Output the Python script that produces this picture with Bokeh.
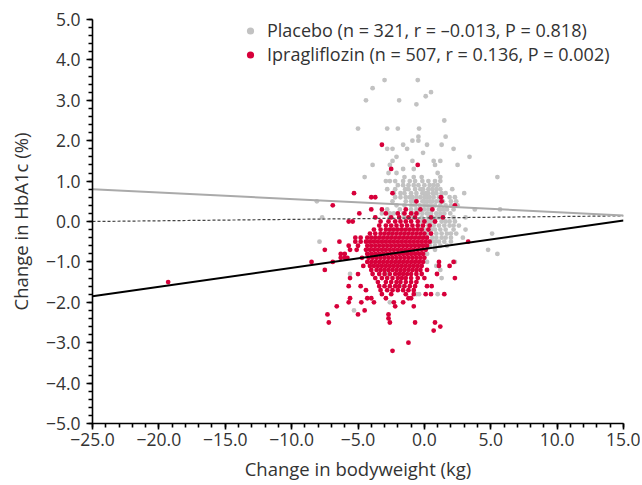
from bokeh.plotting import figure
from bokeh.models import Range1d, FixedTicker, CustomJSTickFormatter, Legend, LegendItem
from bokeh.embed import file_html
from bokeh.resources import INLINE

# ---- axis ticks ----
x_ticks = [-25, -20, -15, -10, -5, 0, 5, 10, 15]
y_ticks = [-5, -4, -3, -2, -1, 0, 1, 2, 3, 4, 5]
x_minor = list(range(-25, 16))
y_minor = [round(-5 + 0.2 * i, 1) for i in range(51)]

# ---- Placebo: HbA1c change levels (%) and bodyweight changes (kg) at each level ----
placebo_levels = [3.5, 3.3, 3.2, 3.1, 3.0, 2.9, 2.5, 2.3, 2.1, 2.0, 1.9, 1.8, 1.7, 1.6, 1.5,
                  1.4, 1.3, 1.2, 1.1, 1.0, 0.9, 0.8, 0.7, 0.6, 0.5, 0.4, 0.3, 0.2, 0.1, 0.0,
                  -0.1, -0.2, -0.3, -0.4, -0.5, -0.6, -0.7, -0.8, -1.0, -1.1, -1.2, -1.3,
                  -1.4, -1.6, -1.8, -2.0, -2.2]
placebo_weights = [
    [-3.0, -0.5],
    [-3.9],
    [0.5],
    [0.1],
    [-4.4, -1.9],
    [-0.6],
    [1.5],
    [-5.0, -2.8, -2.0, -0.4],
    [-0.45, 1.6],
    [-0.9, -0.45],
    [-1.6, 0.2, 1.3],
    [-2.8, -2.4, -1.3, 2.2],
    [-0.1],
    [-2.1, 3.4],
    [-2.4, -0.9, 0.7, 1.2],
    [-3.9, -2.6, 0.8, 2.5],
    [-1.6, -0.8],
    [-2.7, -2.1, 1.0],
    [-4.5, -1.5, -0.8, -0.2, 1.2, 5.5],
    [-2.9, -2.6, -2.2, -1.6, -1.1, -0.7, -0.15, 0.3, 0.8, 1.2],
    [-2.0, -1.6, -1.2, -0.8, -0.45, 0.0, 0.4, 0.7, 1.0],
    [-2.8, -2.2, -1.45, -1.2, -0.7, -0.3, -0.1, 0.3, 0.6, 0.9, 1.2, 2.1],
    [-2.3, -1.8, -1.5, -1.0, -0.6, -0.15, 0.1, 0.3, 0.65, 0.9, 1.3, 1.6, 3.0],
    [-2.2, -1.8, -1.4, -1.1, -0.9, -0.6, -0.3, 0.0, 0.2, 0.4, 0.7, 1.1, 1.3, 1.9, 2.3],
    [-8.1, -2.4, -1.4, -1.0, -0.8, -0.6, -0.15, 0.0, 0.2, 0.4, 0.6, 0.9, 1.2, 1.4, 2.0, 2.4],
    [-2.1, -1.5, -1.0, -0.7, -0.35, 0.0, 0.2, 0.5, 0.8, 1.2, 1.6, 2.0, 2.5],
    [-2.8, -1.85, -1.0, -0.6, -0.3, 0.0, 0.3, 0.6, 1.1, 1.4, 1.7, 2.2, 3.8, 5.7],
    [-3.2, -2.6, -2.3, -1.6, -0.9, -0.5, -0.15, 0.2, 0.5, 0.9, 1.2, 1.5, 1.95],
    [-7.7, -3.7, -2.6, -1.5, -0.9, -0.2, 0.3, 0.6, 0.9, 1.1, 1.4, 2.2, 3.1],
    [-0.2, 0.2, 0.5, 0.8, 1.3, 1.6, 1.9, 2.3],
    [-0.4, 0.3, 0.7, 1.1, 1.5, 1.9, 2.2, 2.6],
    [0.0, 0.5, 0.8, 1.2, 1.6, 2.2, 3.1],
    [-2.5, -1.5, 0.2, 0.5, 0.9, 1.3, 1.7, 2.0, 2.4, 5.1],
    [0.6, 0.9, 1.3, 1.6, 2.0, 2.9],
    [-7.9, 0.5, 0.8, 1.1, 1.5, 2.0],
    [0.4, 0.8, 1.2, 1.7],
    [-3.0, -1.0, 0.8, 4.8],
    [0.2, 5.5],
    [-2.0, 0.2, 2.3],
    [0.9],
    [1.2],
    [-5.6, -2.8],
    [1.3],
    [-1.6],
    [-0.6, -0.4, 1.0],
    [-2.6],
    [-5.3],
]

# ---- Ipragliflozin ----
ipra_levels = [1.9, 1.4, 1.3, 0.7, 0.6, 0.5, 0.4, 0.3, 0.2, 0.1, 0.0, -0.1, -0.2, -0.3,
               -0.4, -0.5, -0.6, -0.7, -0.8, -0.9, -1.0, -1.1, -1.2, -1.3, -1.4, -1.5,
               -1.6, -1.7, -1.8, -1.9, -2.0, -2.1, -2.2, -2.3, -2.4, -2.5, -2.6, -2.7,
               -3.0, -3.2]
ipra_weights = [
    [-3.2],
    [-0.5],
    [-2.5],
    [-5.3, -2.4],
    [-4.0, -3.7, 1.25],
    [-0.6, 1.3],
    [-6.9, 2.3],
    [-4.0, -3.2, -1.4, -0.3, 0.6],
    [-4.9, -2.9, -2.0, -1.5, -1.0, -0.6],
    [-3.7, -2.5, -1.9, -1.2, -0.7, 0.5, 1.4],
    [-5.7, -5.4, -3.3, -2.7, -2.2, -1.8, -1.4, -1.0, -0.5, 0.0, 0.8],
    [-3.4, -2.9, -2.5, -2.1, -1.7, -1.3, -0.9, -0.5, -0.1, 0.4],
    [-3.8, -3.3, -2.9, -2.6, -2.3, -2.0, -1.7, -1.4, -1.1, -0.8, -0.5, -0.2, 0.3],
    [-4.1, -3.7, -3.3, -3.0, -2.7, -2.4, -2.1, -1.8, -1.5, -1.2, -0.9, -0.6, -0.3, 0.0, 0.5],
    [-5.2, -4.8, -4.3, -4.0, -3.7, -3.4, -3.1, -2.8, -2.5, -2.2, -1.9, -1.6, -1.3, -1.0,
     -0.7, -0.4, -0.1, 0.2],
    [-6.4, -5.2, -4.8, -4.4, -4.1, -3.8, -3.5, -3.2, -2.9, -2.6, -2.3, -2.0, -1.7, -1.4,
     -1.1, -0.8, -0.5, -0.2, 0.1, 0.4, 3.3],
    [-5.7, -5.0, -4.3, -4.0, -3.7, -3.4, -3.1, -2.8, -2.5, -2.2, -1.9, -1.6, -1.3, -1.0,
     -0.7, -0.4, -0.1, 0.2],
    [-7.5, -5.6, -5.1, -4.4, -4.1, -3.8, -3.5, -3.2, -2.9, -2.6, -2.3, -2.0, -1.7, -1.4,
     -1.1, -0.8, -0.5, -0.2, 0.1],
    [-6.3, -6.0, -4.3, -4.0, -3.7, -3.4, -3.1, -2.8, -2.5, -2.2, -1.9, -1.6, -1.3, -1.0,
     -0.7, -0.4, -0.1],
    [-6.3, -6.0, -5.8, -4.7, -4.2, -3.9, -3.6, -3.3, -3.0, -2.7, -2.4, -2.1, -1.8, -1.5,
     -1.2, -0.9, -0.6, -0.3, 0.0],
    [-8.5, -6.9, -4.3, -4.0, -3.7, -3.4, -3.1, -2.8, -2.5, -2.2, -1.9, -1.6, -1.3, -1.0,
     -0.7, -0.4, -0.1, 1.1, 2.2],
    [-4.6, -4.1, -3.8, -3.5, -3.2, -2.9, -2.6, -2.3, -2.0, -1.7, -1.4, -1.1, -0.8, -0.5,
     -0.2, 1.1, 1.9],
    [-7.5, -4.0, -3.6, -3.3, -3.0, -2.7, -2.4, -2.1, -1.8, -1.5, -1.2, -0.9, -0.6, -0.3, 0.2],
    [-5.0, -3.9, -3.4, -3.0, -2.6, -2.2, -1.9, -1.6, -1.3, -1.0, -0.6, -0.2, 0.95],
    [-5.6, -3.7, -3.2, -2.8, -2.4, -2.0, -1.7, -1.4, -1.0, -0.5, 0.0, 2.3],
    [-19.3, -3.5, -2.9, -2.5, -2.1, -1.8, -1.4, -1.0, -0.6],
    [-5.7, -4.8, -3.4, -3.0, -2.6, -2.2, -1.9, -1.5, -1.1, -0.7, 0.2, 0.55],
    [-4.4, -3.3, -2.8, -2.4, -2.0, -1.6, -1.2, -0.8],
    [-3.2, -2.5, -1.4, -0.8, 0.1, 0.5, 1.5],
    [-5.6, -4.3, -4.0, -2.9, -1.2, -1.0],
    [-5.7, -4.75, -3.8, -2.3, -1.6],
    [-6.6, -2.2, -0.8],
    [-4.5],
    [-7.3, -5.0, -2.7],
    [-2.7],
    [-7.2, -2.6, -0.7, 0.8],
    [1.2],
    [0.7],
    [-1.2],
    [-2.4],
]

# ---- regression / reference lines (read at x = -25 and x = 15) ----
line_x = [-25.0, 15.0]
placebo_fit_y = [0.80, 0.15]
ipra_fit_y = [-1.85, 0.025]
reference_y = [0.0, 0.14]

placebo_label = "Placebo (n = 321, r = \u20130.013, P = 0.818)"
ipra_label = "Ipragliflozin (n = 507, r = 0.136, P = 0.002)"

# flatten rows
placebo_x, placebo_y = [], []
for lvl, ws in zip(placebo_levels, placebo_weights):
    placebo_x += ws
    placebo_y += [lvl] * len(ws)
ipra_x, ipra_y = [], []
for lvl, ws in zip(ipra_levels, ipra_weights):
    ipra_x += ws
    ipra_y += [lvl] * len(ws)

FONT = "Open Sans"
TEXT = "#333333"
GRAY = "#C2C2C2"
RED = "#D7003A"

p = figure(width=640, height=484, x_range=Range1d(-25, 15), y_range=Range1d(-5, 5),
           output_backend="svg", toolbar_location=None,
           min_border_left=92, min_border_right=17, min_border_top=19, min_border_bottom=61)
p.xgrid.visible = False
p.ygrid.visible = False
p.outline_line_color = None
p.background_fill_color = "white"

fmt = CustomJSTickFormatter(code="return tick.toFixed(1).replace('-', '\u2212');")
p.xaxis.ticker = FixedTicker(ticks=x_ticks, minor_ticks=x_minor)
p.yaxis.ticker = FixedTicker(ticks=y_ticks, minor_ticks=y_minor)
for ax in (p.xaxis[0], p.yaxis[0]):
    ax.formatter = fmt
    ax.axis_line_color = "black"
    ax.axis_line_width = 1.6
    ax.major_tick_line_color = "black"
    ax.major_tick_line_width = 1.6
    ax.minor_tick_line_color = "black"
    ax.minor_tick_line_width = 1.6
    ax.major_tick_in = 0
    ax.major_tick_out = 6
    ax.minor_tick_in = 0
    ax.minor_tick_out = 4
    ax.major_label_text_font = FONT
    ax.major_label_text_font_size = "17.5px"
    ax.major_label_text_color = TEXT
    ax.axis_label_text_font = FONT
    ax.axis_label_text_font_size = "18.5px"
    ax.axis_label_text_font_style = "normal"
    ax.axis_label_text_color = TEXT
p.xaxis.axis_label = "Change in bodyweight (kg)"
p.yaxis.axis_label = "Change in HbA1c (%)"
p.xaxis.major_label_standoff = 3
p.yaxis.major_label_standoff = 6
p.xaxis.axis_label_standoff = 7
p.yaxis.axis_label_standoff = 10

r_pl = p.scatter(placebo_x, placebo_y, size=4.8, fill_color=GRAY, line_color=None)
r_ip = p.scatter(ipra_x, ipra_y, size=4.8, fill_color=RED, line_color=None)

p.line(line_x, reference_y, line_color="#444444", line_width=1.2, line_dash="3 2")
p.line(line_x, placebo_fit_y, line_color="#AAAAAA", line_width=2)
p.line(line_x, ipra_fit_y, line_color="black", line_width=2)

legend = Legend(items=[LegendItem(label=placebo_label, renderers=[r_pl]),
                       LegendItem(label=ipra_label, renderers=[r_ip])],
                location=(149, 357), orientation="vertical",
                label_text_font=FONT, label_text_font_size="18px", label_text_color=TEXT,
                glyph_width=18, glyph_height=23, label_height=23, label_standoff=8,
                spacing=0, padding=0, margin=0,
                background_fill_alpha=0, border_line_color=None)
p.add_layout(legend)

open("out.html", "w").write(file_html(p, INLINE))
